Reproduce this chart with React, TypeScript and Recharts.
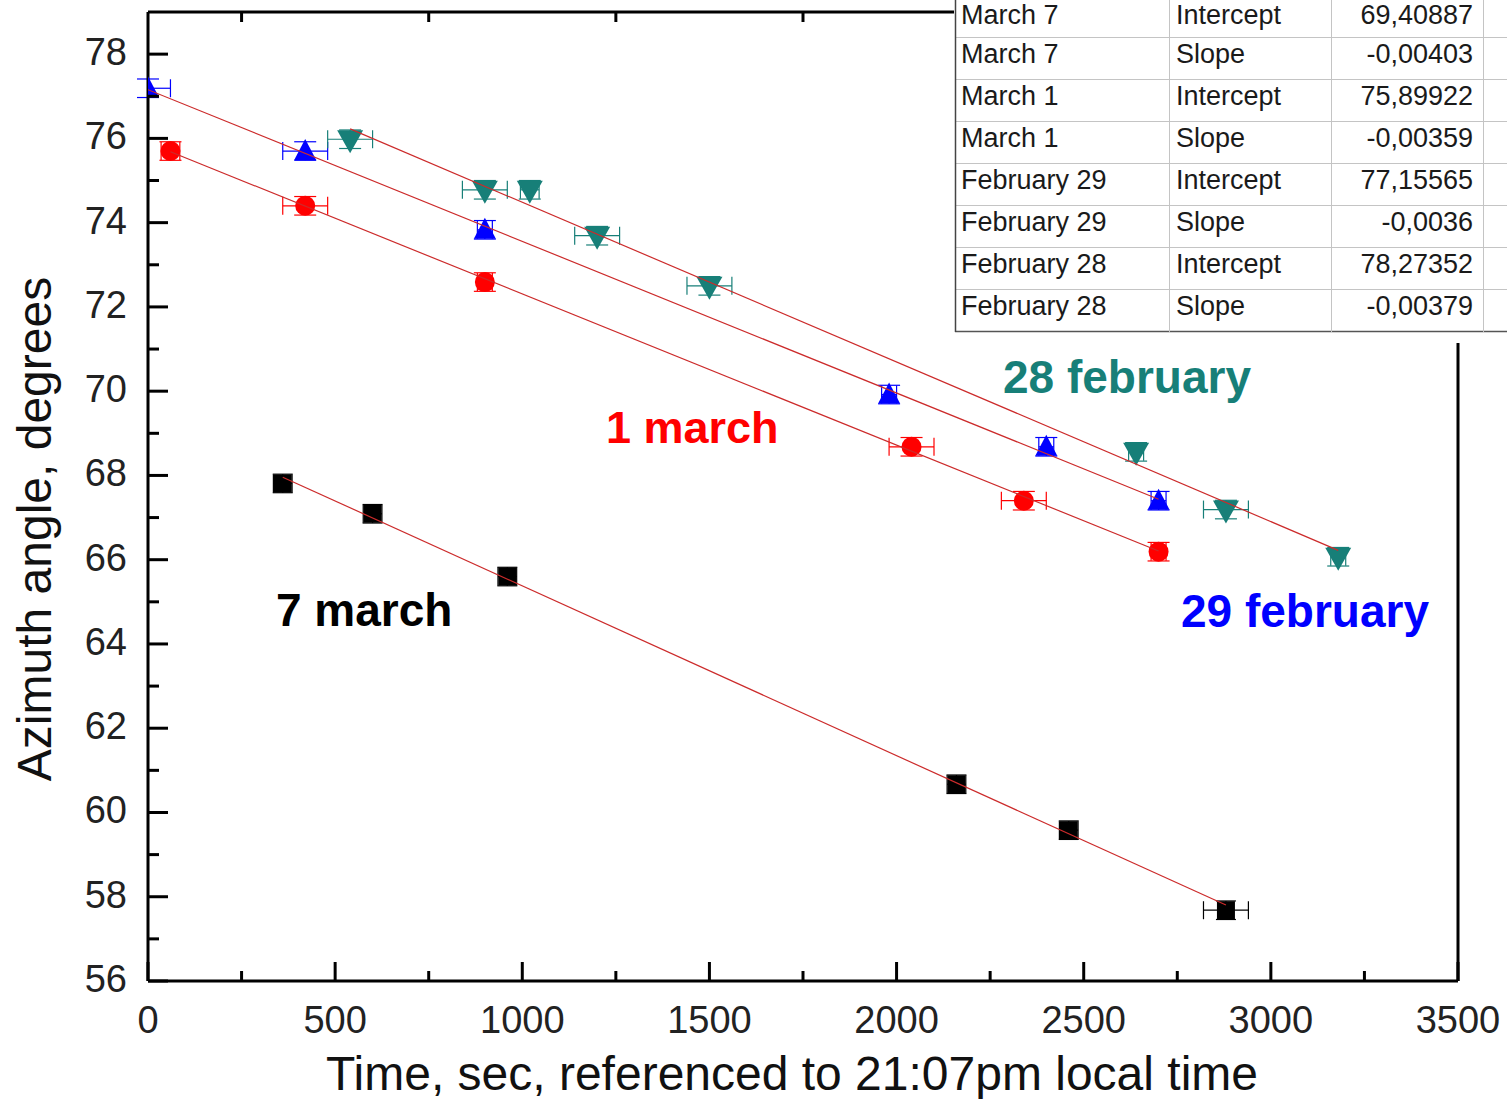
import { ScatterChart, Scatter, XAxis, YAxis, ErrorBar } from "recharts";

// measured points (time in sec, azimuth in degrees, x error in sec)
const timeFeb28 = [540, 900, 1020, 1200, 1500, 2640, 2880, 3180];
const azFeb28 = [75.98, 74.78, 74.78, 73.69, 72.5, 68.56, 67.19, 66.07];
const errFeb28 = [60, 60, 25, 60, 60, 20, 60, 20];

const timeFeb29 = [0, 420, 900, 1980, 2400, 2700];
const azFeb29 = [77.19, 75.7, 73.83, 69.92, 68.68, 67.4];
const errFeb29 = [60, 60, 20, 20, 20, 20];

const timeMar1 = [60, 420, 900, 2040, 2340, 2700];
const azMar1 = [75.7, 74.4, 72.59, 68.68, 67.4, 66.19];
const errMar1 = [25, 60, 20, 60, 60, 20];

const timeMar7 = [360, 600, 960, 2160, 2460, 2880];
const azMar7 = [67.81, 67.09, 65.6, 60.67, 59.58, 57.68];
const errMar7 = [25, 25, 25, 25, 25, 60];

const Y_ERR = 0.22;

// linear fit results (from the table)
const fitRowNames = ["March 7", "March 7", "March 1", "March 1", "February 29", "February 29", "February 28", "February 28"];
const fitRowParams = ["Intercept", "Slope", "Intercept", "Slope", "Intercept", "Slope", "Intercept", "Slope"];
const fitRowValues = ["69,40887", "-0,00403", "75,89922", "-0,00359", "77,15565", "-0,0036", "78,27352", "-0,00379"];

const interceptMar7 = 69.40887;
const slopeMar7 = -0.00403;
const interceptMar1 = 75.89922;
const slopeMar1 = -0.00359;
const interceptFeb29 = 77.15565;
const slopeFeb29 = -0.0036;
const interceptFeb28 = 78.27352;
const slopeFeb28 = -0.00379;

const xTicks = [0, 250, 500, 750, 1000, 1250, 1500, 1750, 2000, 2250, 2500, 2750, 3000, 3250, 3500];
const topTicks = [250, 750, 1250, 1750, 2250, 2750, 3250];
const yTicks = [56, 57, 58, 59, 60, 61, 62, 63, 64, 65, 66, 67, 68, 69, 70, 71, 72, 73, 74, 75, 76, 77, 78];

const X_MIN = 0;
const X_MAX = 3500;
const W = 1507;
const H = 1099;
const PLOT_LEFT = 148;
const PLOT_TOP = 12;
const PLOT_RIGHT = 1458;
const PLOT_BOTTOM = 981;
const FONT = "'Liberation Sans', Arial, Helvetica, sans-serif";

const TEAL = "#177f78";
const BLUE = "#0000ff";
const RED = "#ff0000";
const FIT = "#cc2b2b";

// error bars are cut where they leave the plot, like the original
const toPoints = (xs: number[], ys: number[], ex: number[]) =>
  xs.map((x, i) => ({ x, y: ys[i], ex: [Math.min(ex[i], x - X_MIN), ex[i]], ey: Y_ERR }));

const fitLine = (xs: number[], a: number, b: number) => {
  const x0 = Math.min(...xs);
  const x1 = Math.max(...xs);
  return [
    { x: x0, y: a + b * x0 },
    { x: x1, y: a + b * x1 },
  ];
};

const CLIP = "url(#plot-clip)";

const UpTriangle = (p: any) => (
  <polygon clipPath={CLIP} points={`${p.cx},${p.cy - 12} ${p.cx - 11},${p.cy + 9} ${p.cx + 11},${p.cy + 9}`} fill={BLUE} />
);
const DownTriangle = (p: any) => (
  <polygon clipPath={CLIP} points={`${p.cx - 13},${p.cy - 9} ${p.cx + 13},${p.cy - 9} ${p.cx},${p.cy + 14}`} fill={TEAL} />
);
const Dot = (p: any) => <circle clipPath={CLIP} cx={p.cx} cy={p.cy} r={10} fill={RED} />;
const Square = (p: any) => <rect clipPath={CLIP} x={p.cx - 9} y={p.cy - 9} width={18} height={18} fill="#000" />;
const NoShape = () => <g />;

// bottom ticks point inward; the top frame gets short ticks at the odd 250s
const XTick = (props: any) => {
  const { x, payload } = props;
  const major = payload.value % 500 === 0;
  const onTop = topTicks.includes(payload.value);
  return (
    <g>
      <line x1={x} x2={x} y1={PLOT_BOTTOM} y2={PLOT_BOTTOM - (major ? 19 : 10)} stroke="#000" strokeWidth={3} />
      {onTop && <line x1={x} x2={x} y1={PLOT_TOP} y2={PLOT_TOP + 10} stroke="#000" strokeWidth={3} />}
      {major && (
        <text x={x} y={PLOT_BOTTOM + 52} textAnchor="middle" fontSize={38} fill="#222" fontFamily={FONT}>
          {payload.value}
        </text>
      )}
    </g>
  );
};

const YTick = (props: any) => {
  const { y, payload } = props;
  const major = payload.value % 2 === 0;
  return (
    <g>
      <line x1={PLOT_LEFT} x2={PLOT_LEFT + (major ? 20 : 11)} y1={y} y2={y} stroke="#000" strokeWidth={3} />
      {major && (
        <text x={PLOT_LEFT - 21} y={y + 11} textAnchor="end" fontSize={38} fill="#222" fontFamily={FONT}>
          {payload.value}
        </text>
      )}
    </g>
  );
};

export default function App() {
  const feb28 = toPoints(timeFeb28, azFeb28, errFeb28);
  const feb29 = toPoints(timeFeb29, azFeb29, errFeb29);
  const mar1 = toPoints(timeMar1, azMar1, errMar1);
  const mar7 = toPoints(timeMar7, azMar7, errMar7);

  const TABLE_X = 955;
  const colX = [0, 214, 376, 528, 560];
  const rowH = 42;
  const rowTop0 = -5;

  return (
    <div style={{ position: "absolute", left: 0, top: 0, width: W, height: H, background: "#fff" }}>
      <svg width={0} height={0} style={{ position: "absolute" }}>
        <defs>
          <clipPath id="plot-clip">
            <rect x={PLOT_LEFT} y={PLOT_TOP} width={PLOT_RIGHT - PLOT_LEFT} height={PLOT_BOTTOM - PLOT_TOP} />
          </clipPath>
        </defs>
      </svg>
      <ScatterChart width={W} height={H} margin={{ top: PLOT_TOP - 1, right: W - PLOT_RIGHT - 1, bottom: 0, left: 0 }}>
        <XAxis
          type="number"
          dataKey="x"
          domain={[X_MIN, X_MAX]}
          ticks={xTicks}
          allowDataOverflow
          height={H - PLOT_BOTTOM}
          tickLine={false}
          tick={<XTick />}
          axisLine={{ stroke: "#000", strokeWidth: 3 }}
          interval={0}
        />
        <XAxis
          xAxisId="top"
          orientation="top"
          type="number"
          domain={[X_MIN, X_MAX]}
          height={1}
          tick={false}
          tickLine={false}
          axisLine={{ stroke: "#000", strokeWidth: 3 }}
        />
        <YAxis
          type="number"
          dataKey="y"
          domain={[56, 79]}
          ticks={yTicks}
          allowDataOverflow
          width={PLOT_LEFT}
          tickLine={false}
          tick={<YTick />}
          axisLine={{ stroke: "#000", strokeWidth: 3 }}
          interval={0}
        />
        <YAxis
          yAxisId="right"
          orientation="right"
          type="number"
          domain={[56, 79]}
          width={1}
          tick={false}
          tickLine={false}
          axisLine={{ stroke: "#000", strokeWidth: 3 }}
        />

        <Scatter data={mar7} shape={Square} isAnimationActive={false}>
          <ErrorBar dataKey="ex" direction="x" width={9} stroke="#000" strokeWidth={1.2} isAnimationActive={false} />
          <ErrorBar dataKey="ey" direction="y" width={10} stroke="#000" strokeWidth={1.2} isAnimationActive={false} />
        </Scatter>
        <Scatter data={mar1} shape={Dot} isAnimationActive={false}>
          <ErrorBar dataKey="ex" direction="x" width={9} stroke={RED} strokeWidth={1.2} isAnimationActive={false} />
          <ErrorBar dataKey="ey" direction="y" width={11} stroke={RED} strokeWidth={1.2} isAnimationActive={false} />
        </Scatter>
        <Scatter data={feb29} shape={UpTriangle} isAnimationActive={false}>
          <ErrorBar dataKey="ex" direction="x" width={9} stroke={BLUE} strokeWidth={1.2} isAnimationActive={false} />
          <ErrorBar dataKey="ey" direction="y" width={11} stroke={BLUE} strokeWidth={1.2} isAnimationActive={false} />
        </Scatter>
        <Scatter data={feb28} shape={DownTriangle} isAnimationActive={false}>
          <ErrorBar dataKey="ex" direction="x" width={9} stroke={TEAL} strokeWidth={1.2} isAnimationActive={false} />
          <ErrorBar dataKey="ey" direction="y" width={11} stroke={TEAL} strokeWidth={1.2} isAnimationActive={false} />
        </Scatter>

        <Scatter data={fitLine(timeMar7, interceptMar7, slopeMar7)} line={{ stroke: FIT, strokeWidth: 1.2 }} shape={NoShape} isAnimationActive={false} />
        <Scatter data={fitLine(timeMar1, interceptMar1, slopeMar1)} line={{ stroke: FIT, strokeWidth: 1.2 }} shape={NoShape} isAnimationActive={false} />
        <Scatter data={fitLine(timeFeb29, interceptFeb29, slopeFeb29)} line={{ stroke: FIT, strokeWidth: 1.2 }} shape={NoShape} isAnimationActive={false} />
        <Scatter data={fitLine(timeFeb28, interceptFeb28, slopeFeb28)} line={{ stroke: FIT, strokeWidth: 1.2 }} shape={NoShape} isAnimationActive={false} />
      </ScatterChart>

      <svg width={W} height={H} style={{ position: "absolute", left: 0, top: 0, pointerEvents: "none" }} fontFamily={FONT}>
        {/* axis titles */}
        <text x={792} y={1090} textAnchor="middle" fontSize={48} fill="#111">
          Time, sec, referenced to 21:07pm local time
        </text>
        <text x={51} y={529} textAnchor="middle" fontSize={48} fill="#111" transform="rotate(-90 51 529)">
          Azimuth angle, degrees
        </text>

        {/* series annotations */}
        <text x={1003} y={393} fontSize={46} fontWeight="bold" fill={TEAL}>28 february</text>
        <text x={606} y={443} fontSize={45} fontWeight="bold" fill={RED}>1 march</text>
        <text x={276} y={626} fontSize={46} fontWeight="bold" fill="#000">7 march</text>
        <text x={1181} y={627} fontSize={46} fontWeight="bold" fill={BLUE}>29 february</text>

        {/* fit results table */}
        <g transform={`translate(${TABLE_X},0)`}>
          <rect x={-1} y={0} width={W - TABLE_X + 1} height={343} fill="#fff" />
          {fitRowNames.map((name, i) => {
            const top = rowTop0 + rowH * i;
            const base = Math.max(top + 26, 24);
            return (
              <g key={i}>
                <text x={6} y={base} fontSize={27} fill="#1a1a1a">{name}</text>
                <text x={221} y={base} fontSize={27} fill="#1a1a1a">{fitRowParams[i]}</text>
                <text x={518} y={base} fontSize={27} fill="#1a1a1a" textAnchor="end">{fitRowValues[i]}</text>
                <line
                  x1={0}
                  x2={colX[4]}
                  y1={top + rowH + 0.5}
                  y2={top + rowH + 0.5}
                  stroke={i === fitRowNames.length - 1 ? "#555" : "#c4c4c4"}
                  strokeWidth={i === fitRowNames.length - 1 ? 1.5 : 1}
                />
              </g>
            );
          })}
          {colX.slice(1, 4).map((cx, i) => (
            <line key={i} x1={cx + 0.5} x2={cx + 0.5} y1={0} y2={332} stroke="#c4c4c4" strokeWidth={1} />
          ))}
          <line x1={0.5} x2={0.5} y1={0} y2={332} stroke="#444" strokeWidth={1.5} />
        </g>
      </svg>
    </div>
  );
}
